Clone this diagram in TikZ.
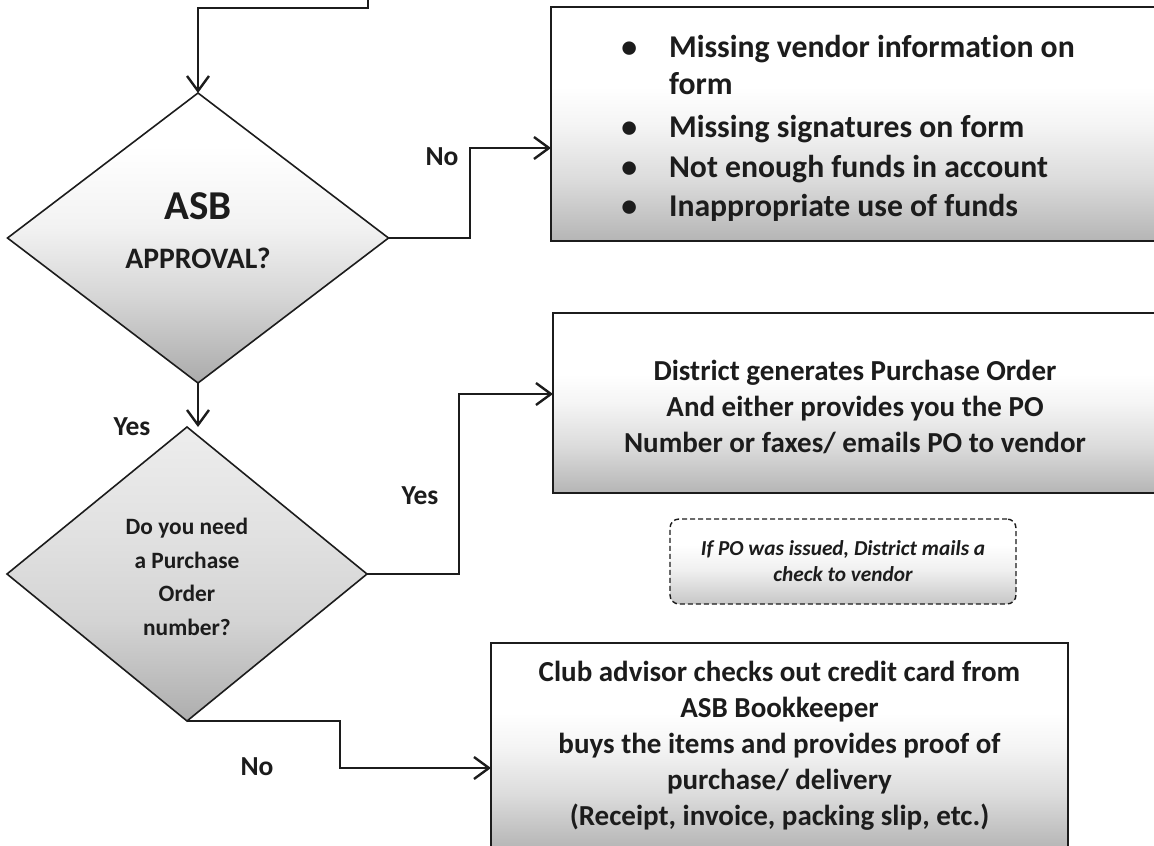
\documentclass[tikz,border=0pt]{standalone}
\usepackage{fontspec}
\setmainfont{Carlito}[Ligatures=CommonOff]
\usetikzlibrary{shapes.geometric,arrows.meta}
\definecolor{ink}{HTML}{1C1C1C}
\pgfdeclareverticalshading{boxshade}{100bp}{color(0bp)=(black!29); color(25bp)=(black!29); color(38bp)=(black!14); color(50bp)=(black!4); color(58bp)=(white); color(100bp)=(white)}
\pgfdeclareverticalshading{dashade}{100bp}{color(0bp)=(black!33); color(25bp)=(black!33); color(40bp)=(black!16); color(52bp)=(black!5); color(66bp)=(white); color(100bp)=(white)}
\pgfdeclareverticalshading{dbshade}{100bp}{color(0bp)=(black!32); color(25bp)=(black!32); color(42bp)=(black!17); color(56bp)=(black!12); color(75bp)=(black!7); color(100bp)=(black!7)}
\pgfdeclareverticalshading{noteshade}{100bp}{color(0bp)=(black!22); color(25bp)=(black!22); color(45bp)=(black!6); color(60bp)=(white); color(100bp)=(white)}
\begin{document}
\begin{tikzpicture}[x=1pt,y=-1pt,
  conn/.style={draw=ink, line width=2.4pt},
  arr/.style={conn, -{Straight Barb[length=15pt,width=22pt]}},
  decision/.style={diamond, draw=ink, line width=1.6pt, inner sep=0pt, outer sep=0pt, align=center, text=ink, font=\bfseries},
  proc/.style={rectangle, draw=ink, line width=1.8pt, inner sep=0pt, outer sep=0pt, align=center, text=ink,
     shade, shading=boxshade},
  note/.style={rectangle, rounded corners=9pt, draw=ink, dash pattern=on 5pt off 3pt, line width=1.4pt,
     inner sep=0pt, align=center, text=ink, shade, shading=noteshade,
     font=\bfseries\itshape\fontsize{21.3}{26}\selectfont},
  lbl/.style={text=ink, font=\bfseries\fontsize{27.5}{32}\selectfont, inner sep=0pt},
  boxfont/.style={font=\bfseries\fontsize{29}{36}\selectfont}
]
\clip (0,0) rectangle (1154,846);
\fill[white] (0,0) rectangle (1154,846);

% decisions
\node[decision, minimum width=381pt, minimum height=290pt, shade, shading=dashade] (d1) at (198,238) {};
\node[text=ink, font=\bfseries, align=center, inner sep=0pt] (d1t) at (198,231)
  {{\fontsize{41}{44}\selectfont ASB}\\[27pt]{\fontsize{29.7}{34}\selectfont APPROVAL?}};

\node[decision, minimum width=360pt, minimum height=294pt, shade, shading=dbshade,
      font=\bfseries\fontsize{23.4}{33.5}\selectfont] (d2) at (187,574)
  {\rule{0pt}{22pt}Do you need\\a Purchase\\Order\\number?};

% process boxes
\node[proc, font=\bfseries\fontsize{31.7}{37}\selectfont, minimum width=606pt, minimum height=234pt] (b1) at (854,124)
  {\begin{tabular}{@{}l@{\hspace{32pt}}l@{\hspace{12pt}}}
   \textbullet & \rule{0pt}{37pt}Missing vendor information on\\
               & form\\[6pt]
   \textbullet & Missing signatures on form\\[3pt]
   \textbullet & Not enough funds in account\\[2pt]
   \textbullet & Inappropriate use of funds
   \end{tabular}};

\node[proc, boxfont, minimum width=604pt, minimum height=180pt] (b2) at (855,403)
  {\rule{0pt}{28pt}District generates Purchase Order\\And either provides you the PO\\Number or faxes/ emails PO to vendor};

\node[note, minimum width=346pt, minimum height=85pt] (n1) at (843,561.5)
  {If PO was issued, District mails a\\check to vendor};

\node[proc, font=\bfseries\fontsize{29}{36}\selectfont, minimum width=577pt, minimum height=206pt] (b3) at (779.5,746)
  {Club advisor checks out credit card from\\ASB Bookkeeper\\buys the items and provides proof of\\purchase/ delivery\\(Receipt, invoice, packing slip, etc.)};

% connectors
\coordinate (start) at (368,-5);
\draw[arr] (start) -- (368,8) -| (d1.north);
\draw[arr] (d1.east) -| (470,148) -- (b1.west |- 0,148);
\draw[arr] (d1.south) -- (d1.south |- d2.north);
\draw[arr] (d2.east) -| (459,394) -- (b2.west |- 0,394);
\draw[arr] (d2.south) -| (340,768) -- (b3.west |- 0,768);

% labels
\node[lbl] (lno1) at (442,157) {No};
\node[lbl] (lyes1) at (132,427) {Yes};
\node[lbl] (lyes2) at (420,496) {Yes};
\node[lbl] (lno2) at (257,767) {No};
\end{tikzpicture}
\end{document}
